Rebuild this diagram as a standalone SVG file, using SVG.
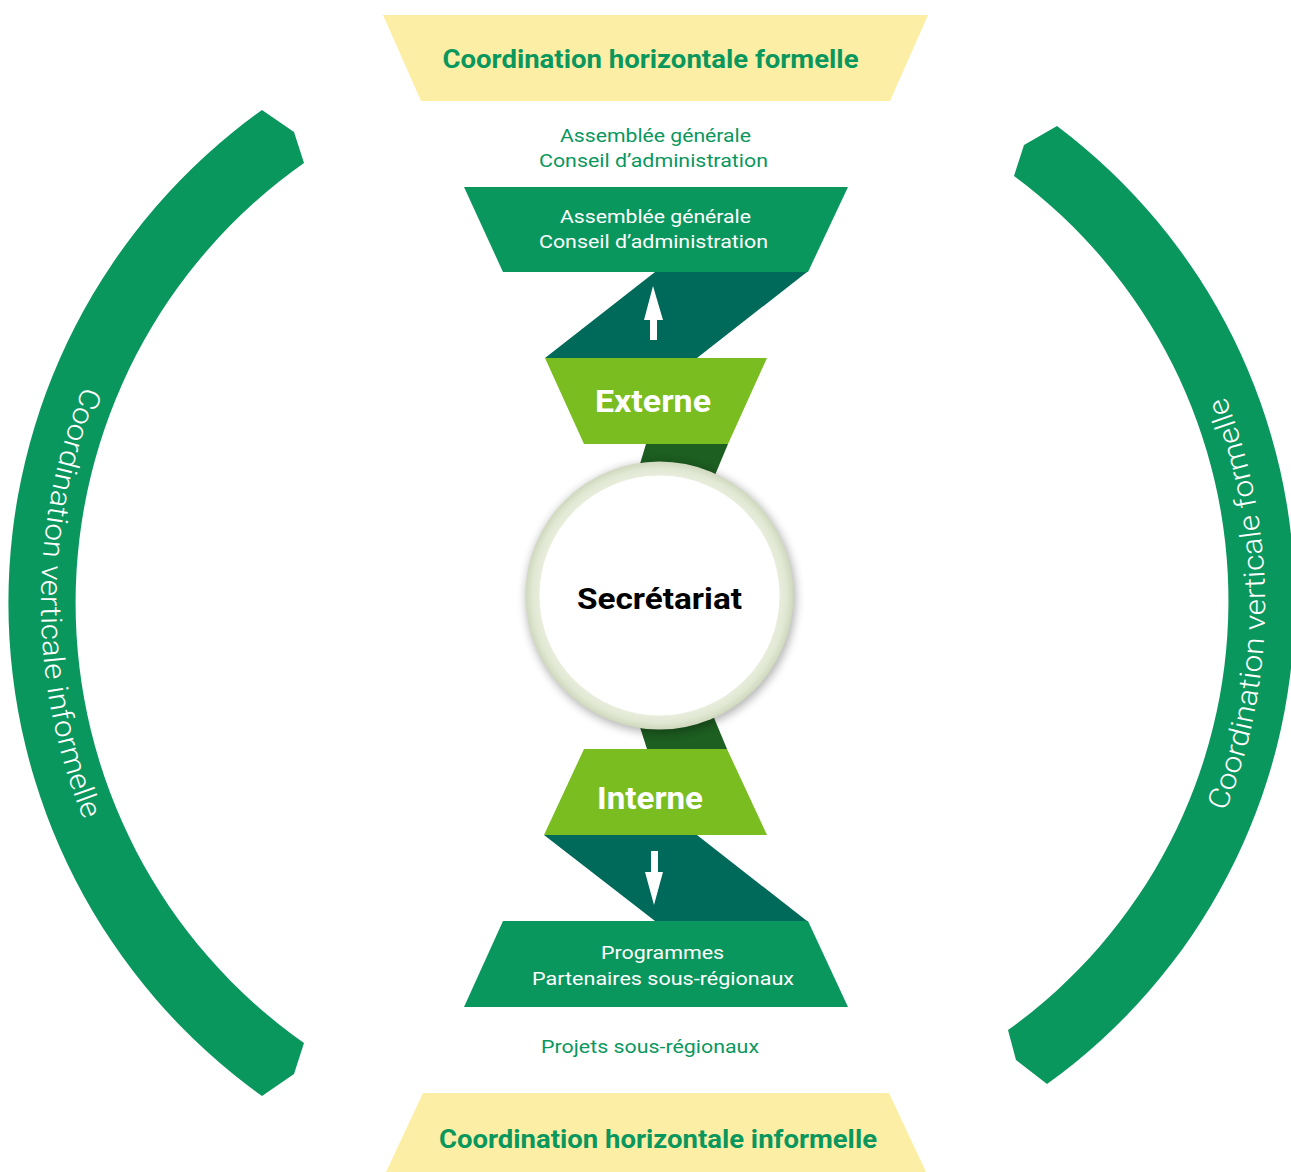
<svg xmlns="http://www.w3.org/2000/svg" width="1291" height="1172" viewBox="0 0 1291 1172">
<style>
.yellow{fill:#fcefa5}
.green{fill:#0a975e}
.teal{fill:#006a5a}
.lime{fill:#79bd20}
.dark{fill:#1d5e21}
.arrow{fill:#ffffff}
.title{font-family:Roboto,"Liberation Sans",sans-serif;font-weight:700;font-size:25px;fill:#0a975e;text-anchor:middle}
.lbl{font-family:Roboto,"Liberation Sans",sans-serif;font-weight:400;font-size:19px;text-anchor:middle}
.lblg{fill:#0a975e}
.lblw{fill:#ffffff}
.big{font-family:Roboto,"Liberation Sans",sans-serif;font-weight:700;font-size:31px;fill:#ffffff;text-anchor:middle}
.center{font-family:Roboto,"Liberation Sans",sans-serif;font-weight:700;font-size:30px;fill:#000000;text-anchor:middle}
.arc{font-family:Roboto,"Liberation Sans",sans-serif;font-weight:300;font-size:29px;fill:#ffffff;text-anchor:middle}
</style>
<defs>
<filter id="shadow" x="-20%" y="-20%" width="140%" height="140%">
<feGaussianBlur stdDeviation="5"/>
</filter>
<radialGradient id="ring" cx="0.5" cy="0.5" r="0.5">
<stop offset="0.86" stop-color="#eef2e3"/>
<stop offset="0.95" stop-color="#e0e7d2"/>
<stop offset="1" stop-color="#cfd8be"/>
</radialGradient>
<path id="pathLeft" d="M614,30 A573,573 0 0 0 614,1176"/>
<path id="pathRight" d="M702,1167 A563,563 0 0 0 702,41"/>
</defs>

<g id="arc-left">
<path class="green" d="M262,110 A606,606 0 0 0 262,1096 L294,1074 L304,1043 A538,538 0 0 1 304,163 L294,132 Z"/>
<text class="arc"><textPath href="#pathLeft" startOffset="50%" textLength="445" lengthAdjust="spacingAndGlyphs">Coordination verticale informelle</textPath></text>
</g>

<g id="arc-right">
<path class="green" d="M1057,126 A594,594 0 0 1 1047,1084 L1016,1060 L1008,1030 A528,528 0 0 0 1014,176 L1024,145 Z"/>
<text class="arc"><textPath href="#pathRight" startOffset="50%" textLength="425" lengthAdjust="spacingAndGlyphs">Coordination verticale formelle</textPath></text>
</g>

<g id="title-top">
<polygon class="yellow" points="383,15 928,15 890,101 421,101"/>
<text class="title" x="650.5" y="68" textLength="416" lengthAdjust="spacingAndGlyphs">Coordination horizontale formelle</text>
</g>

<g id="label-top">
<text class="lbl lblg" x="655.5" y="141.5" textLength="191" lengthAdjust="spacingAndGlyphs">Assemblée générale</text>
<text class="lbl lblg" x="653.5" y="166.5" textLength="229" lengthAdjust="spacingAndGlyphs">Conseil d’administration</text>
</g>

<g id="connectors">
<polygon class="teal" points="655,272 807,272 697,358 545,358"/>
<polygon class="arrow" points="653,286 663,320 657,320 657,340 650,340 650,320 644,320"/>
<polygon class="teal" points="544,835 697,835 807,921 655,921"/>
<polygon class="arrow" points="651,851 658,851 658,872 663,872 654,905 645,872 651,872"/>
<polygon class="dark" points="646,444 728,444 692,530 620,530"/>
<polygon class="dark" points="620,665 692,665 727,749 647,749"/>
</g>

<g id="box-top">
<polygon class="green" points="464,187 848,187 808,272 503,272"/>
<text class="lbl lblw" x="655.5" y="223" textLength="191" lengthAdjust="spacingAndGlyphs">Assemblée générale</text>
<text class="lbl lblw" x="653.5" y="248" textLength="229" lengthAdjust="spacingAndGlyphs">Conseil d’administration</text>
</g>

<g id="externe">
<polygon class="lime" points="545,358 767,358 728,444 584,444"/>
<text class="big" x="653" y="412" textLength="116" lengthAdjust="spacingAndGlyphs">Externe</text>
</g>

<g id="interne">
<polygon class="lime" points="584,749 727,749 767,835 544,835"/>
<text class="big" x="650" y="809" textLength="106" lengthAdjust="spacingAndGlyphs">Interne</text>
</g>

<g id="secretariat">
<circle cx="661" cy="598" r="135" fill="#000000" opacity="0.3" filter="url(#shadow)"/>
<circle cx="659.5" cy="595.5" r="134" fill="url(#ring)"/>
<circle cx="659.5" cy="595.5" r="120" fill="#ffffff"/>
<text class="center" x="659.5" y="609" textLength="165" lengthAdjust="spacingAndGlyphs">Secrétariat</text>
</g>

<g id="box-bottom">
<polygon class="green" points="503,921 808,921 848,1007 464,1007"/>
<text class="lbl lblw" x="662.5" y="959" textLength="123" lengthAdjust="spacingAndGlyphs">Programmes</text>
<text class="lbl lblw" x="663" y="985" textLength="262" lengthAdjust="spacingAndGlyphs">Partenaires sous-régionaux</text>
</g>

<g id="label-bottom">
<text class="lbl lblg" x="650" y="1053" textLength="218" lengthAdjust="spacingAndGlyphs">Projets sous-régionaux</text>
</g>

<g id="title-bottom">
<polygon class="yellow" points="423,1093 889,1093 926,1172 386,1172"/>
<text class="title" x="658" y="1148" textLength="438" lengthAdjust="spacingAndGlyphs">Coordination horizontale informelle</text>
</g>
</svg>
